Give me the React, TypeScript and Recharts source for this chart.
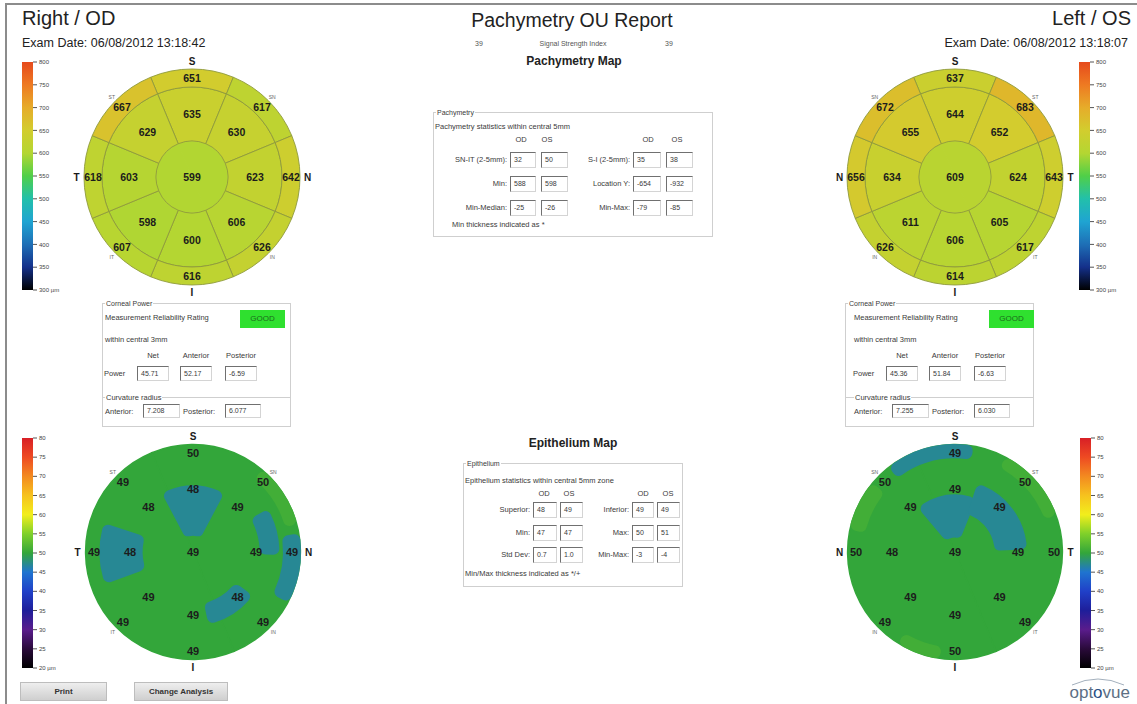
import React from "react";
import { PieChart, Pie, Cell, BarChart, Bar, XAxis, YAxis } from "recharts";

const FONT = '"Liberation Sans", Arial, sans-serif';

// zone values run clockwise starting at S: centre, 2-5 mm ring, 5-6 mm ring
const odPachyCenter = 599;
const odPachyInner = [635, 630, 623, 606, 600, 598, 603, 629];
const odPachyOuter = [651, 617, 642, 626, 616, 607, 618, 667];
const osPachyCenter = 609;
const osPachyInner = [644, 652, 624, 605, 606, 611, 634, 655];
const osPachyOuter = [637, 683, 643, 617, 614, 626, 656, 672];

const odEpiCenter = 49;
const odEpiInner = [48, 49, 49, 48, 49, 49, 48, 48];
const odEpiOuter = [50, 50, 49, 49, 49, 49, 49, 49];
const osEpiCenter = 49;
const osEpiInner = [49, 49, 49, 49, 49, 49, 48, 49];
const osEpiOuter = [49, 50, 50, 49, 50, 49, 50, 50];
const epiBaseLevel = 50;

// epithelium contour regions: [level µm, from°, to°, inner mm, outer mm]
const odEpiRegions = [
  [51, 15, 50, 2.65, 3.0],
  [47, 62, 118, 0.45, 1.85],
  [47, 162, 200, 1.4, 2.6],
  [47, -2, 30, 1.85, 2.4],
  [47, -28, 10, 2.5, 3.0],
  [47, -78, -36, 1.45, 2.05],
];
const osEpiRegions = [
  [51, 20, 62, 2.65, 3.0],
  [51, 238, 262, 2.65, 3.0],
  [51, 140, 168, 2.55, 3.0],
  [47, 80, 128, 2.6, 3.0],
  [47, 68, 130, 0.4, 1.6],
  [47, 2, 72, 1.1, 2.0],
];

const odDirections = ["S", "SN", "N", "IN", "I", "IT", "T", "ST"];
const osDirections = ["S", "ST", "T", "IT", "I", "IN", "N", "SN"];

const pachyTicks = [300, 350, 400, 450, 500, 550, 600, 650, 700, 750, 800];
const pachyColors = ["#000000", "#14308a", "#1e6fb6", "#1fa4d2", "#22c0aa", "#50cf48", "#b4d632", "#d2cd2e", "#e6ac2a", "#ee7a22", "#e64a1c"];
const epiTicks = [20, 25, 30, 35, 40, 45, 50, 55, 60, 65, 70, 75, 80];
const epiColors = ["#000000", "#2a0a3a", "#5a1c8c", "#1e1e9a", "#2040c8", "#1f74d0", "#33a63a", "#7fd02a", "#f2ee1c", "#f6c21e", "#f38a20", "#ee4a22", "#d81f26"];

const pachyStatLabelsA = ["SN-IT (2-5mm):", "Min:", "Min-Median:"];
const pachyStatOdA = ["32", "588", "-25"];
const pachyStatOsA = ["50", "598", "-26"];
const pachyStatLabelsB = ["S-I (2-5mm):", "Location Y:", "Min-Max:"];
const pachyStatOdB = ["35", "-654", "-79"];
const pachyStatOsB = ["38", "-932", "-85"];

const epiStatLabelsA = ["Superior:", "Min:", "Std Dev:"];
const epiStatOdA = ["48", "47", "0.7"];
const epiStatOsA = ["49", "47", "1.0"];
const epiStatLabelsB = ["Inferior:", "Max:", "Min-Max:"];
const epiStatOdB = ["49", "50", "-3"];
const epiStatOsB = ["49", "51", "-4"];

const powerHeaders = ["Net", "Anterior", "Posterior"];
const odPower = ["45.71", "52.17", "-6.59"];
const osPower = ["45.36", "51.84", "-6.63"];
const odRadius = ["7.208", "6.077"];
const osRadius = ["7.255", "6.030"];

const RAD = Math.PI / 180;
const MM = 36; // px per mm on the maps
const START = 112.5;
const END = -247.5;

function hex(c: string) {
  return [1, 3, 5].map((i) => parseInt(c.slice(i, i + 2), 16));
}

function scaleColor(v: number, ticks: number[], colors: string[]) {
  if (v <= ticks[0]) return colors[0];
  for (let i = 1; i < ticks.length; i++) {
    if (v <= ticks[i]) {
      const t = (v - ticks[i - 1]) / (ticks[i] - ticks[i - 1]);
      const a = hex(colors[i - 1]);
      const b = hex(colors[i]);
      const m = a.map((x, k) => Math.round(x + (b[k] - x) * t));
      return `rgb(${m[0]},${m[1]},${m[2]})`;
    }
  }
  return colors[colors.length - 1];
}

function Txt({ x, y, size = 7.5, anchor = "start", bold = false, color = "#3a3a3a", bg = false, children }: any) {
  const tx = anchor === "middle" ? "-50%" : anchor === "end" ? "-100%" : "0";
  return (
    <div
      style={{
        position: "absolute",
        left: x,
        top: y,
        transform: `translate(${tx},-50%)`,
        fontSize: size,
        fontWeight: bold ? 700 : 400,
        color,
        whiteSpace: "nowrap",
        lineHeight: 1,
        fontFamily: FONT,
        background: bg ? "#fff" : undefined,
        padding: bg ? "0 1px" : undefined,
      }}
    >
      {children}
    </div>
  );
}

function Field({ x, y, w, h = 15, children }: any) {
  return (
    <div
      style={{
        position: "absolute",
        left: x,
        top: y,
        width: w,
        height: h,
        boxSizing: "border-box",
        borderStyle: "solid",
        borderWidth: 1,
        borderColor: "#707070 #d4d4d4 #d4d4d4 #707070",
        fontSize: 7,
        color: "#3a3a3a",
        lineHeight: `${h - 2}px`,
        paddingLeft: 3,
        fontFamily: FONT,
        background: "#fff",
      }}
    >
      {children}
    </div>
  );
}

function GroupBox({ x, y, w, h, title }: any) {
  return (
    <>
      <div
        style={{
          position: "absolute",
          left: x,
          top: y,
          width: w,
          height: h,
          boxSizing: "border-box",
          border: "1px solid #cfcfcf",
        }}
      />
      <Txt x={x + 3} y={y} size={7} bg>
        {title}
      </Txt>
    </>
  );
}

function zoneLabel(values: number[], size: number) {
  return (p: any) => {
    const r = p.innerRadius === 0 ? 0 : (p.innerRadius + p.outerRadius) / 2;
    const x = p.cx + r * Math.cos(-p.midAngle * RAD);
    const y = p.cy + r * Math.sin(-p.midAngle * RAD);
    return (
      <text
        key={p.index}
        x={x}
        y={y}
        textAnchor="middle"
        dominantBaseline="central"
        fontSize={size}
        fontWeight={700}
        fill="#1c1c1c"
        fontFamily={FONT}
      >
        {values[p.index] ?? ""}
      </text>
    );
  };
}

function dirLabel(dirs: string[]) {
  return (p: any) => {
    const main = dirs[p.index].length === 1;
    const r = p.outerRadius + (main ? 7 : 5);
    const x = p.cx + r * Math.cos(-p.midAngle * RAD);
    const y = p.cy + r * Math.sin(-p.midAngle * RAD);
    return (
      <text
        key={p.index}
        x={x}
        y={y}
        textAnchor="middle"
        dominantBaseline="central"
        fontSize={main ? 10 : 5}
        fontWeight={main ? 700 : 400}
        fill={main ? "#1a1a1a" : "#666"}
        fontFamily={FONT}
      >
        {dirs[p.index]}
      </text>
    );
  };
}

// a full disk drawn as two half sectors (a single 360° arc renders unreliably)
const halves = [{ one: 1 }, { one: 1 }];

function ZoneMap({ x, y, center, inner, outer, dirs, kind, regions = [] }: any) {
  const size = 250;
  const c = size / 2;
  const r0 = 1 * MM;
  const r1 = 2.5 * MM;
  const r2 = 3 * MM;
  const pachy = kind === "pachy";
  const fillOf = (v: number) => (pachy ? scaleColor(v, pachyTicks, pachyColors) : "none");
  const stroke = pachy ? "#8f9a3c" : "none";
  const fs = pachy ? 10.5 : 11;
  const one = (arr: number[]) => arr.map((v) => ({ v, one: 1 }));
  const base = scaleColor(epiBaseLevel, epiTicks, epiColors);
  const centerFill = fillOf(center);
  return (
    <div style={{ position: "absolute", left: x - c, top: y - c }}>
      <PieChart width={size} height={size} margin={{ top: 0, right: 0, bottom: 0, left: 0 }}>
        {!pachy && (
          <Pie
            data={halves}
            dataKey="one"
            cx={c}
            cy={c}
            outerRadius={r2 - 0.5}
            startAngle={START}
            endAngle={END}
            fill={base}
            stroke={base}
            strokeWidth={1.5}
            isAnimationActive={false}
          />
        )}
        {regions.map((g: number[], i: number) => (
          <Pie
            key={`g${i}`}
            data={[{ one: 1 }]}
            dataKey="one"
            cx={c}
            cy={c}
            startAngle={g[1]}
            endAngle={g[2]}
            innerRadius={g[3] * MM}
            outerRadius={g[4] * MM}
            cornerRadius={6}
            fill={scaleColor(g[0], epiTicks, epiColors)}
            stroke="none"
            isAnimationActive={false}
          />
        ))}
        <Pie
          data={halves}
          dataKey="one"
          cx={c}
          cy={c}
          outerRadius={r0}
          startAngle={START}
          endAngle={END}
          fill={centerFill}
          stroke={pachy ? centerFill : "none"}
          strokeWidth={1}
          label={zoneLabel([center], fs)}
          labelLine={false}
          isAnimationActive={false}
        />
        <Pie
          data={one(inner)}
          dataKey="one"
          cx={c}
          cy={c}
          innerRadius={r0}
          outerRadius={r1}
          startAngle={START}
          endAngle={END}
          stroke={stroke}
          strokeWidth={0.9}
          label={zoneLabel(inner, fs)}
          labelLine={false}
          isAnimationActive={false}
        >
          {inner.map((v: number, i: number) => (
            <Cell key={i} fill={fillOf(v)} />
          ))}
        </Pie>
        <Pie
          data={one(outer)}
          dataKey="one"
          cx={c}
          cy={c}
          innerRadius={r1}
          outerRadius={r2}
          startAngle={START}
          endAngle={END}
          stroke={stroke}
          strokeWidth={0.9}
          label={zoneLabel(outer, fs)}
          labelLine={false}
          isAnimationActive={false}
        >
          {outer.map((v: number, i: number) => (
            <Cell key={i} fill={fillOf(v)} />
          ))}
        </Pie>
        <Pie
          data={dirs.map(() => ({ one: 1 }))}
          dataKey="one"
          cx={c}
          cy={c}
          innerRadius={r2}
          outerRadius={r2 + 0.5}
          startAngle={START}
          endAngle={END}
          fill="none"
          stroke="none"
          label={dirLabel(dirs)}
          labelLine={false}
          isAnimationActive={false}
        />
      </PieChart>
    </div>
  );
}

function Gradient({ id, ticks, colors }: any) {
  const min = ticks[0];
  const max = ticks[ticks.length - 1];
  return (
    <linearGradient id={id} x1="0" y1="0" x2="0" y2="1">
      {ticks
        .map((t: number, i: number) => (
          <stop key={t} offset={(max - t) / (max - min)} stopColor={colors[i]} />
        ))
        .reverse()}
    </linearGradient>
  );
}

function ColorBar({ x, y, height, ticks, gradient }: any) {
  const min = ticks[0];
  const max = ticks[ticks.length - 1];
  const data = [{ name: "scale", range: [min, max] }];
  const pad = 6;
  return (
    <div style={{ position: "absolute", left: x, top: y - pad }}>
      <BarChart width={52} height={height + pad * 2} data={data} margin={{ top: pad, right: 0, bottom: pad, left: 0 }} barCategoryGap={0}>
        <XAxis dataKey="name" hide />
        <YAxis
          orientation="right"
          type="number"
          domain={[min, max]}
          ticks={ticks}
          interval={0}
          width={41}
          axisLine={false}
          tickSize={4}
          tickMargin={2}
          stroke="#555"
          tick={(p: any) => (
            <text key={p.payload.value} x={p.x} y={p.y} dy="0.35em" fontSize={6} fill="#444" fontFamily={FONT} textAnchor="start">
              {p.payload.value === min ? `${p.payload.value} µm` : p.payload.value}
            </text>
          )}
        />
        <Bar dataKey="range" fill={`url(#${gradient})`} isAnimationActive={false} />
      </BarChart>
    </div>
  );
}

function CornealBox({ x, inset, power, radius }: any) {
  const y = 303;
  const L = x + inset;
  const colX = [35, 78, 123];
  return (
    <>
      <GroupBox x={x} y={y} w={189} h={124} title="Corneal Power" />
      <Txt x={L + 3} y={318}>Measurement Reliability Rating</Txt>
      <div
        style={{
          position: "absolute",
          left: L + 138,
          top: 310,
          width: 45,
          height: 18,
          background: "#2fe02f",
          color: "#1b6b1b",
          fontSize: 8,
          fontFamily: FONT,
          lineHeight: "18px",
          textAlign: "center",
        }}
      >
        GOOD
      </div>
      <Txt x={L + 3} y={340}>within central 3mm</Txt>
      {powerHeaders.map((h, i) => (
        <Txt key={h} x={L + colX[i] + 16} y={356} anchor="middle">
          {h}
        </Txt>
      ))}
      <Txt x={L + 2} y={374}>Power</Txt>
      {power.map((v: string, i: number) => (
        <Field key={i} x={L + colX[i]} y={366} w={32}>
          {v}
        </Field>
      ))}
      <div style={{ position: "absolute", left: x + 1, top: 397, width: 187, height: 1, background: "#cfcfcf" }} />
      <Txt x={L + 3} y={398} bg>Curvature radius</Txt>
      <Txt x={L + 3} y={412}>Anterior:</Txt>
      <Field x={L + 41} y={404} w={37} h={14}>
        {radius[0]}
      </Field>
      <Txt x={L + 81} y={412}>Posterior:</Txt>
      <Field x={L + 123} y={404} w={36} h={14}>
        {radius[1]}
      </Field>
    </>
  );
}

function StatRows({ rowsY, labelA, odA, osA, labelB, odB, osB, colA, colB }: any) {
  return (
    <>
      {rowsY.map((ry: number, i: number) => (
        <React.Fragment key={ry}>
          <Txt x={colA[0] - 3} y={ry} anchor="end">
            {labelA[i]}
          </Txt>
          <Field x={colA[0]} y={ry - 8} w={colA[1]} h={16}>
            {odA[i]}
          </Field>
          <Field x={colA[2]} y={ry - 8} w={colA[3]} h={16}>
            {osA[i]}
          </Field>
          <Txt x={colB[0] - 3} y={ry} anchor="end">
            {labelB[i]}
          </Txt>
          <Field x={colB[0]} y={ry - 8} w={colB[1]} h={16}>
            {odB[i]}
          </Field>
          <Field x={colB[2]} y={ry - 8} w={colB[3]} h={16}>
            {osB[i]}
          </Field>
        </React.Fragment>
      ))}
    </>
  );
}

function Button({ x, w, label }: any) {
  return (
    <div
      style={{
        position: "absolute",
        left: x,
        top: 682,
        width: w,
        height: 19,
        boxSizing: "border-box",
        border: "1px solid #bdbdbd",
        background: "linear-gradient(#eeeeee, #cfcfcf)",
        fontSize: 8,
        fontWeight: 700,
        color: "#333",
        fontFamily: FONT,
        lineHeight: "17px",
        textAlign: "center",
      }}
    >
      {label}
    </div>
  );
}

export default function App() {
  return (
    <div
      style={{
        position: "absolute",
        left: 0,
        top: 0,
        width: 1137,
        height: 704,
        background: "#fff",
        overflow: "hidden",
        fontFamily: FONT,
      }}
    >
      <svg width={0} height={0} style={{ position: "absolute" }}>
        <defs>
          <Gradient id="pachyScale" ticks={pachyTicks} colors={pachyColors} />
          <Gradient id="epiScale" ticks={epiTicks} colors={epiColors} />
        </defs>
      </svg>
      <div
        style={{
          position: "absolute",
          left: 5,
          top: 3,
          width: 1140,
          height: 710,
          borderTop: "2px solid #8c8c8c",
          borderLeft: "2px solid #8c8c8c",
        }}
      />

      {/* header */}
      <Txt x={22} y={18} size={20} color="#222">Right / OD</Txt>
      <Txt x={22} y={43} size={12.5} color="#222">Exam Date: 06/08/2012 13:18:42</Txt>
      <Txt x={1131} y={18} size={20} color="#222" anchor="end">Left / OS</Txt>
      <Txt x={1128} y={43} size={12.5} color="#222" anchor="end">Exam Date: 06/08/2012 13:18:07</Txt>
      <Txt x={572} y={21} size={19.5} color="#222" anchor="middle">Pachymetry OU Report</Txt>
      <Txt x={479} y={43} size={7} anchor="middle" color="#555">39</Txt>
      <Txt x={573} y={43} size={7} anchor="middle" color="#555">Signal Strength Index</Txt>
      <Txt x={669} y={43} size={7} anchor="middle" color="#555">39</Txt>
      <Txt x={574} y={61} size={12} anchor="middle" bold color="#222">Pachymetry Map</Txt>
      <Txt x={573} y={443} size={12} anchor="middle" bold color="#222">Epithelium Map</Txt>

      {/* pachymetry maps */}
      <ColorBar x={22} y={62} height={228} ticks={pachyTicks} gradient="pachyScale" />
      <ZoneMap x={192} y={177} center={odPachyCenter} inner={odPachyInner} outer={odPachyOuter} dirs={odDirections} kind="pachy" />
      <ZoneMap x={955} y={177} center={osPachyCenter} inner={osPachyInner} outer={osPachyOuter} dirs={osDirections} kind="pachy" />
      <ColorBar x={1079} y={62} height={228} ticks={pachyTicks} gradient="pachyScale" />

      {/* pachymetry statistics */}
      <GroupBox x={433} y={112} w={280} h={125} title="Pachymetry" />
      <Txt x={435} y={127}>Pachymetry statistics within central 5mm</Txt>
      {[521, 547, 648, 677].map((hx, i) => (
        <Txt key={hx} x={hx} y={140} anchor="middle">
          {i % 2 === 0 ? "OD" : "OS"}
        </Txt>
      ))}
      <StatRows
        rowsY={[160, 184, 208]}
        labelA={pachyStatLabelsA}
        odA={pachyStatOdA}
        osA={pachyStatOsA}
        labelB={pachyStatLabelsB}
        odB={pachyStatOdB}
        osB={pachyStatOsB}
        colA={[510, 26, 541, 27]}
        colB={[633, 28, 666, 27]}
      />
      <Txt x={452} y={225}>Min thickness indicated as *</Txt>

      {/* corneal power */}
      <CornealBox x={102} inset={0} power={odPower} radius={odRadius} />
      <CornealBox x={845} inset={6} power={osPower} radius={osRadius} />

      {/* epithelium maps */}
      <ColorBar x={22} y={438} height={230} ticks={epiTicks} gradient="epiScale" />
      <ZoneMap x={193} y={552} center={odEpiCenter} inner={odEpiInner} outer={odEpiOuter} dirs={odDirections} kind="epi" regions={odEpiRegions} />
      <ZoneMap x={955} y={552} center={osEpiCenter} inner={osEpiInner} outer={osEpiOuter} dirs={osDirections} kind="epi" regions={osEpiRegions} />
      <ColorBar x={1080} y={438} height={230} ticks={epiTicks} gradient="epiScale" />

      {/* epithelium statistics */}
      <GroupBox x={463} y={463} w={220} h={124} title="Epithelium" />
      <Txt x={465} y={481}>Epithelium statistics within central 5mm zone</Txt>
      {[544, 569, 643, 668].map((hx, i) => (
        <Txt key={hx} x={hx} y={494} anchor="middle">
          {i % 2 === 0 ? "OD" : "OS"}
        </Txt>
      ))}
      <StatRows
        rowsY={[510, 533, 555]}
        labelA={epiStatLabelsA}
        odA={epiStatOdA}
        osA={epiStatOsA}
        labelB={epiStatLabelsB}
        odB={epiStatOdB}
        osB={epiStatOsB}
        colA={[533, 24, 560, 23]}
        colB={[632, 22, 657, 23]}
      />
      <Txt x={465} y={574}>Min/Max thickness indicated as */+</Txt>

      {/* footer */}
      <Button x={20} w={87} label="Print" />
      <Button x={134} w={94} label="Change Analysis" />
      <svg style={{ position: "absolute", left: 1068, top: 676 }} width={60} height={10}>
        <path d="M4 9 Q30 -3 56 9" fill="none" stroke="#8a9aab" strokeWidth={0.8} />
      </svg>
      <Txt x={1130} y={692} size={17} anchor="end" color="#5d6f84">
        opt<span style={{ color: "#2a4f86" }}>o</span>vue
      </Txt>
    </div>
  );
}
